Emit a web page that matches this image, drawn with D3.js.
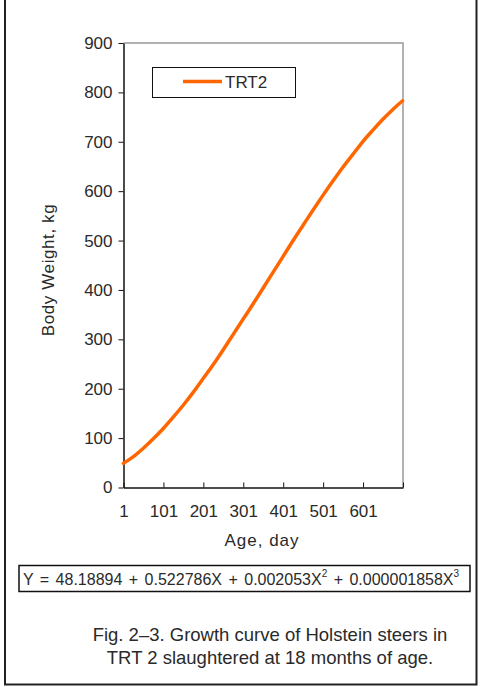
<!DOCTYPE html>
<html>
<head>
<meta charset="utf-8">
<script src="https://cdn.jsdelivr.net/npm/d3@7"></script>
<style>
  html, body { margin: 0; padding: 0; background: #fff; }
  svg { display: block; font-family: "Liberation Sans", Arial, sans-serif; }
</style>
</head>
<body>
<svg id="chart" width="482" height="687"></svg>
<script>
// Age (days) and body weight (kg) along the fitted growth curve
const ageDays = [1, 25, 50, 75, 100, 125, 150, 175, 200, 225, 250, 275, 300, 325, 350,
                 375, 400, 425, 450, 475, 500, 525, 550, 575, 600, 625, 650, 675, 700];
const bodyWeight = [49, 62, 79, 98, 119, 142, 166, 192, 220, 248, 278, 309, 340, 371, 403,
                    435, 467, 499, 530, 561, 591, 620, 648, 674, 700, 723, 745, 765, 783];
const xTickValues = [1, 101, 201, 301, 401, 501, 601, 701];
const xTickLabels = ["1", "101", "201", "301", "401", "501", "601", ""];
const yTickValues = [0, 100, 200, 300, 400, 500, 600, 700, 800, 900];
const seriesName = "TRT2";
const equationParts = [
  { t: "Y = 48.18894 + 0.522786X + 0.002053X" }, { t: "2", sup: true },
  { t: " + 0.000001858X" }, { t: "3", sup: true }
];
const captionLines = ["Fig. 2\u20133. Growth curve of Holstein steers in",
                      "TRT 2 slaughtered at 18 months of age."];

const svg = d3.select("#chart");
const textColor = "#2a2a2a";
const font = "Liberation Sans, Arial, sans-serif";
const plot = { left: 123.5, right: 403, top: 43, bottom: 487.5 };

const x = d3.scaleLinear().domain([1, 701]).range([plot.left, plot.right]);
const y = d3.scaleLinear().domain([0, 900]).range([plot.bottom, plot.top]);

// Outer frame (open at top)
svg.append("path")
  .attr("d", "M5,0 V684.5 H476.5 V0")
  .attr("fill", "none").attr("stroke", "#222").attr("stroke-width", 2);

// Plot area top and right edges
svg.append("path")
  .attr("d", `M${plot.left},${plot.top} H${plot.right} V${plot.bottom}`)
  .attr("fill", "none").attr("stroke", "#999").attr("stroke-width", 1.5);

// Y axis
const yAxis = svg.append("g")
  .attr("transform", `translate(${plot.left},0)`)
  .call(d3.axisLeft(y).tickValues(yTickValues).tickSize(5).tickPadding(6).tickSizeOuter(0));
yAxis.attr("font-size", 17).attr("font-family", font);
yAxis.select(".domain").attr("stroke", "#111").attr("stroke-width", 1.5);
yAxis.selectAll(".tick line").attr("stroke", "#111");
yAxis.selectAll(".tick text").attr("fill", textColor);

// X axis (ticks point inward)
const xAxis = svg.append("g")
  .attr("transform", `translate(0,${plot.bottom})`)
  .call(d3.axisBottom(x).tickValues(xTickValues)
    .tickFormat((d, i) => xTickLabels[i]).tickSize(-5).tickPadding(17).tickSizeOuter(0));
xAxis.attr("font-size", 17).attr("font-family", font);
xAxis.select(".domain").attr("stroke", "#111").attr("stroke-width", 1.5);
xAxis.selectAll(".tick line").attr("stroke", "#111");
xAxis.selectAll(".tick text").attr("fill", textColor);

// Axis titles
svg.append("text")
  .attr("transform", `translate(54,270) rotate(-90)`)
  .attr("text-anchor", "middle").attr("font-size", 17).attr("fill", textColor)
  .style("letter-spacing", "0.6px")
  .text("Body Weight, kg");
svg.append("text")
  .attr("x", 262).attr("y", 546)
  .attr("text-anchor", "middle").attr("font-size", 17).attr("fill", textColor)
  .style("letter-spacing", "1px")
  .text("Age, day");

// Growth curve
const line = d3.line().x((d, i) => x(ageDays[i])).y(d => y(d)).curve(d3.curveMonotoneX);
svg.append("path")
  .datum(bodyWeight)
  .attr("d", line)
  .attr("fill", "none").attr("stroke", "#FF6600").attr("stroke-width", 3.5)
  .attr("stroke-linecap", "round");

// Legend
svg.append("rect")
  .attr("x", 152.5).attr("y", 67.5).attr("width", 143).attr("height", 30)
  .attr("fill", "#fff").attr("stroke", "#111").attr("stroke-width", 1);
svg.append("line")
  .attr("x1", 183).attr("x2", 222).attr("y1", 81.5).attr("y2", 81.5)
  .attr("stroke", "#FF6600").attr("stroke-width", 3.5);
svg.append("text")
  .attr("x", 225).attr("y", 88).attr("font-size", 17).attr("fill", textColor)
  .text(seriesName);

// Regression equation box
svg.append("rect")
  .attr("x", 19).attr("y", 565.5).attr("width", 451).attr("height", 26)
  .attr("fill", "#fff").attr("stroke", "#111").attr("stroke-width", 1.5);
const eq = svg.append("text")
  .attr("x", 23).attr("y", 585).attr("font-size", 16).attr("fill", textColor)
  .style("white-space", "pre").style("word-spacing", "2px");
let raised = false;
equationParts.forEach(p => {
  const ts = eq.append("tspan").text(p.t);
  if (p.sup && !raised) { ts.attr("font-size", 10).attr("dy", -8); raised = true; }
  else if (!p.sup && raised) { ts.attr("dy", 8); raised = false; }
});

// Caption
svg.selectAll("text.caption")
  .data(captionLines)
  .join("text")
  .attr("class", "caption")
  .attr("x", 270).attr("y", (d, i) => 641 + i * 23)
  .attr("text-anchor", "middle").attr("font-size", 18.5).attr("fill", textColor)
  .text(d => d);
</script>
</body>
</html>
